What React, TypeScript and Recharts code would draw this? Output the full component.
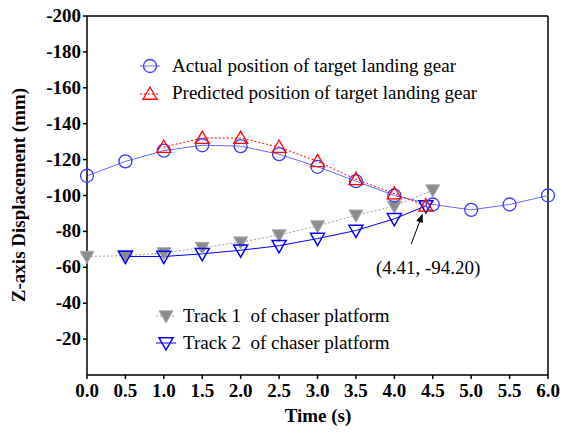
import {
  LineChart,
  Line,
  XAxis,
  YAxis,
  ReferenceLine,
  ReferenceDot,
} from 'recharts'

const timeTicks = [0, 0.5, 1, 1.5, 2, 2.5, 3, 3.5, 4, 4.5, 5, 5.5, 6]
const zTicks = [-200, -180, -160, -140, -120, -100, -80, -60, -40, -20]

const actualT = [0, 0.5, 1, 1.5, 2, 2.5, 3, 3.5, 4, 4.5, 5, 5.5, 6]
const actualZ = [-111, -119, -125, -128, -127.5, -123, -116, -108, -100, -95, -92, -95, -100]

const predictedT = [1, 1.5, 2, 2.5, 3, 3.5, 4, 4.41]
const predictedZ = [-127, -132, -132, -127, -119, -109, -101, -94.2]

const track1T = [0, 0.5, 1, 1.5, 2, 2.5, 3, 3.5, 4, 4.5]
const track1Z = [-66, -66.5, -68, -71, -74, -78, -83, -89, -94, -103]

const track2T = [0.5, 1, 1.5, 2, 2.5, 3, 3.5, 4, 4.41]
const track2Z = [-66, -66, -67.5, -69.5, -72, -76, -80.5, -87, -94.2]

const zip = (t: number[], z: number[]) => t.map((x, i) => ({ t: x, z: z[i] }))

const FONT = '"Liberation Serif", serif'
const BLUE = '#3b3bff'
const BLUE2 = '#0000ff'
const RED = '#ff0000'
const GRAY = '#8c8c8c'

const boldText = {
  fontFamily: FONT,
  fontSize: 19,
  fontWeight: 700,
  fill: '#000',
}

function Circle({ cx, cy }: any) {
  if (cx == null || cy == null) return null
  return <circle cx={cx} cy={cy} r={6.5} fill="none" stroke={BLUE} strokeWidth={1.3} />
}

function upTri(cx: number, cy: number, s = 7) {
  return `${cx},${cy - s} ${cx - s},${cy + s * 0.75} ${cx + s},${cy + s * 0.75}`
}
function downTri(cx: number, cy: number, s = 7) {
  return `${cx},${cy + s} ${cx - s},${cy - s * 0.75} ${cx + s},${cy - s * 0.75}`
}

function UpTriangle({ cx, cy }: any) {
  if (cx == null || cy == null) return null
  return <polygon points={upTri(cx, cy)} fill="none" stroke={RED} strokeWidth={1.3} />
}

function GrayTriangle({ cx, cy }: any) {
  if (cx == null || cy == null) return null
  return <polygon points={downTri(cx, cy)} fill={GRAY} stroke="#aaaaaa" strokeWidth={1} />
}

function BlueTriangle({ cx, cy }: any) {
  if (cx == null || cy == null) return null
  return <polygon points={downTri(cx, cy)} fill="none" stroke={BLUE2} strokeWidth={1.5} />
}

function XTick({ x, y, payload }: any) {
  return (
    <text x={x} y={y + 14} textAnchor="middle" style={boldText}>
      {Number(payload.value).toFixed(1)}
    </text>
  )
}

function YTick({ x, y, payload }: any) {
  return (
    <text x={x} y={y + 6} textAnchor="end" style={boldText}>
      {payload.value}
    </text>
  )
}

function Arrow(props: any) {
  const { x1, y1, x2, y2 } = props
  const ang = Math.atan2(y2 - y1, x2 - x1)
  const len = 9
  const w = 3.5
  const bx = x2 - len * Math.cos(ang)
  const by = y2 - len * Math.sin(ang)
  const px = -Math.sin(ang) * w
  const py = Math.cos(ang) * w
  return (
    <g>
      <line x1={x1} y1={y1} x2={bx} y2={by} stroke="#000" strokeWidth={1} />
      <polygon points={`${x2},${y2} ${bx + px},${by + py} ${bx - px},${by - py}`} fill="#000" />
    </g>
  )
}

const legendText = { fontSize: 19, fill: '#000', fontFamily: FONT, whiteSpace: 'pre' as const }

export default function App() {
  return (
    <div
      style={{
        position: 'absolute',
        left: 0,
        top: 0,
        width: 562,
        height: 433,
        background: '#fff',
        fontFamily: FONT,
      }}
    >
      <LineChart
        width={562}
        height={433}
        margin={{ top: 16, right: 14, bottom: 28, left: 27 }}
      >
        <XAxis
          type="number"
          dataKey="t"
          domain={[0, 6]}
          ticks={timeTicks}
          tick={<XTick />}
          tickSize={4}
          tickMargin={4}
          stroke="#000"
          strokeWidth={1.5}
          height={30}
          allowDuplicatedCategory={false}
        />
        <YAxis
          type="number"
          domain={[-200, 0]}
          reversed
          ticks={zTicks}
          tick={<YTick />}
          tickSize={4}
          tickMargin={2}
          stroke="#000"
          strokeWidth={1.5}
          width={60}
        />
        <ReferenceLine y={-200} stroke="#000" strokeWidth={1.5} />
        <ReferenceLine x={6} stroke="#000" strokeWidth={1.5} />
        <Line
          data={zip(track1T, track1Z)}
          dataKey="z"
          stroke="#a0a0a0"
          strokeWidth={1}
          strokeDasharray="2 2"
          dot={<GrayTriangle />}
          isAnimationActive={false}
        />
        <Line
          data={zip(track2T, track2Z)}
          dataKey="z"
          stroke={BLUE2}
          strokeWidth={1}
          dot={<BlueTriangle />}
          isAnimationActive={false}
        />
        <Line
          data={zip(actualT, actualZ)}
          dataKey="z"
          stroke="#6a6aff"
          strokeWidth={1}
          dot={<Circle />}
          isAnimationActive={false}
        />
        <Line
          data={zip(predictedT, predictedZ)}
          dataKey="z"
          stroke={RED}
          strokeWidth={1}
          strokeDasharray="2 2"
          dot={<UpTriangle />}
          isAnimationActive={false}
        />
        <ReferenceLine
          segment={[
            { x: 4.22, y: -73 },
            { x: 4.37, y: -90 },
          ]}
          shape={<Arrow />}
        />
        <ReferenceDot
          x={4.44}
          y={-60}
          r={0}
          fill="none"
          stroke="none"
          label={{ value: '(4.41, -94.20)', position: 'center', fill: '#000', fontSize: 19, fontFamily: FONT }}
        />
      </LineChart>
      <svg
        width={562}
        height={433}
        style={{ position: 'absolute', left: 0, top: 0, pointerEvents: 'none' }}
      >
        <line x1={140} y1={66} x2={160} y2={66} stroke="#6a6aff" strokeWidth={1} />
        <circle cx={150} cy={66} r={6.5} fill="none" stroke={BLUE} strokeWidth={1.3} />
        <text x={172} y={72} style={legendText}>Actual position of target landing gear</text>
        <line x1={140} y1={94} x2={160} y2={94} stroke={RED} strokeWidth={1} strokeDasharray="2 2" />
        <polygon points={upTri(150, 94)} fill="none" stroke={RED} strokeWidth={1.3} />
        <text x={172} y={99} style={legendText}>Predicted position of target landing gear</text>

        <line x1={156} y1={316} x2={176} y2={316} stroke="#a0a0a0" strokeWidth={1} strokeDasharray="2 2" />
        <polygon points={downTri(166, 316)} fill={GRAY} stroke="#aaaaaa" strokeWidth={1} />
        <text x={183} y={322} style={legendText}>Track 1  of chaser platform</text>
        <line x1={156} y1={343} x2={176} y2={343} stroke={BLUE2} strokeWidth={1} />
        <polygon points={downTri(166, 343)} fill="none" stroke={BLUE2} strokeWidth={1.5} />
        <text x={183} y={349} style={legendText}>Track 2  of chaser platform</text>

        <text x={318} y={422} textAnchor="middle" style={boldText}>
          Time (s)
        </text>
        <text transform="translate(25,195) rotate(-90)" textAnchor="middle" style={boldText}>
          Z-axis Displacement (mm)
        </text>
      </svg>
    </div>
  )
}
